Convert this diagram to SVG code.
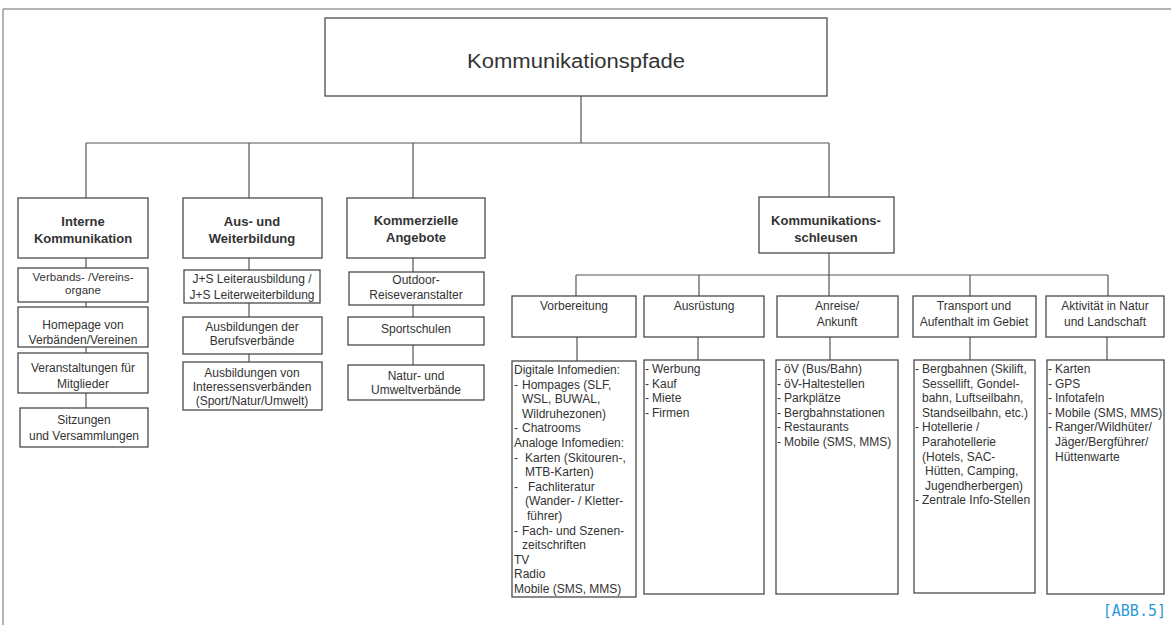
<svg xmlns="http://www.w3.org/2000/svg" width="1171" height="625" viewBox="0 0 1171 625">
<style>
.bx{fill:#fff;stroke:#4a4a4a;stroke-width:1.3}
.ln{stroke:#555;stroke-width:1.2;fill:none}
.fr{stroke:#9a9a9a;stroke-width:1.5;fill:none}
text{font-family:"Liberation Sans",Arial,sans-serif;fill:#333;font-size:12px}
.c{text-anchor:middle}
.b{font-weight:bold;font-size:13px}
.t{font-size:20px}
.s{font-size:11.5px}
.abb{font-family:"DejaVu Sans Mono","Liberation Mono",monospace;font-size:15px;fill:#2e9ad6}
</style>
<rect width="1171" height="625" fill="#fff"/>
<g id="frame">
<line class="fr" x1="3" y1="9" x2="1171" y2="9"/>
<line class="fr" x1="3" y1="9" x2="3" y2="625"/>
</g>
<g id="connectors">
<path class="ln" d="M581 96V143M86 143H829M86 143V198M249 143V198M413 143V198M829 143V197"/>
<path class="ln" d="M86 258V408"/>
<path class="ln" d="M249 258V362"/>
<path class="ln" d="M413 258V365"/>
<path class="ln" d="M829 253V275M576 275H1108M576 275V296M699 275V296M829 275V296M970 275V296M1108 275V296"/>
<path class="ln" d="M577 337V361M698 337V360M830 337V360M970 337V360M1107 337V360"/>
</g>
<g id="title">
<rect class="bx" x="325" y="18" width="502" height="78"/>
<text class="t c" x="576" y="68" textLength="218" lengthAdjust="spacingAndGlyphs">Kommunikationspfade</text>
</g>
<g id="interne">
<rect class="bx" x="18" y="198" width="130" height="60"/>
<text class="b c" x="83" y="226">Interne</text>
<text class="b c" x="83" y="243">Kommunikation</text>
</g>
<g id="verbands">
<rect class="bx" x="18" y="268" width="130" height="34"/>
<text class="c s" x="83" y="281">Verbands- /Vereins-</text>
<text class="c s" x="83" y="294">organe</text>
</g>
<g id="homepage">
<rect class="bx" x="18" y="307" width="130" height="40"/>
<text class="c" x="83" y="329">Homepage von</text>
<text class="c" x="83" y="344">Verbänden/Vereinen</text>
</g>
<g id="veranstaltungen">
<rect class="bx" x="18" y="353" width="130" height="40"/>
<text class="c" x="83" y="372">Veranstaltungen für</text>
<text class="c" x="83" y="388">Mitglieder</text>
</g>
<g id="sitzungen">
<rect class="bx" x="20" y="408" width="128" height="39"/>
<text class="c" x="84" y="424">Sitzungen</text>
<text class="c" x="84" y="440">und Versammlungen</text>
</g>
<g id="ausbildung">
<rect class="bx" x="183" y="198" width="139" height="60"/>
<text class="b c" x="252" y="226">Aus- und</text>
<text class="b c" x="252" y="243">Weiterbildung</text>
</g>
<g id="js">
<rect class="bx" x="184" y="270" width="136" height="33"/>
<text class="c" x="252" y="283">J+S Leiterausbildung  /</text>
<text class="c" x="252" y="299">J+S Leiterweiterbildung</text>
</g>
<g id="berufsverbaende">
<rect class="bx" x="183" y="317" width="139" height="37"/>
<text class="c" x="252" y="331">Ausbildungen der</text>
<text class="c" x="252" y="345">Berufsverbände</text>
</g>
<g id="interessensverbaende">
<rect class="bx" x="183" y="362" width="139" height="48"/>
<text class="c" x="252" y="377">Ausbildungen von</text>
<text class="c" x="252" y="391">Interessensverbänden</text>
<text class="c" x="252" y="405">(Sport/Natur/Umwelt)</text>
</g>
<g id="kommerziell">
<rect class="bx" x="347" y="198" width="138" height="60"/>
<text class="b c" x="416" y="225">Kommerzielle</text>
<text class="b c" x="416" y="242">Angebote</text>
</g>
<g id="outdoor">
<rect class="bx" x="349" y="272" width="135" height="33"/>
<text class="c" x="416" y="284">Outdoor-</text>
<text class="c" x="416" y="299">Reiseveranstalter</text>
</g>
<g id="sportschulen">
<rect class="bx" x="348" y="317" width="136" height="28"/>
<text class="c" x="416" y="333">Sportschulen</text>
</g>
<g id="naturverbaende">
<rect class="bx" x="348" y="365" width="136" height="35"/>
<text class="c" x="416" y="380">Natur- und</text>
<text class="c" x="416" y="394">Umweltverbände</text>
</g>
<g id="schleusen">
<rect class="bx" x="759" y="197" width="135" height="56"/>
<text class="b c" x="826" y="225">Kommunikations-</text>
<text class="b c" x="826" y="242">schleusen</text>
</g>
<g id="vorbereitung">
<rect class="bx" x="512" y="296" width="124" height="41"/>
<text class="c" x="574" y="310">Vorbereitung</text>
</g>
<g id="ausruestung">
<rect class="bx" x="644" y="296" width="120" height="41"/>
<text class="c" x="704" y="310">Ausrüstung</text>
</g>
<g id="anreise">
<rect class="bx" x="777" y="296" width="121" height="41"/>
<text class="c" x="837" y="310">Anreise/</text>
<text class="c" x="837" y="326">Ankunft</text>
</g>
<g id="transport">
<rect class="bx" x="913" y="296" width="123" height="41"/>
<text class="c" x="974" y="310">Transport und</text>
<text class="c" x="974" y="326">Aufenthalt im Gebiet</text>
</g>
<g id="aktivitaet">
<rect class="bx" x="1046" y="296" width="118" height="41"/>
<text class="c" x="1105" y="310">Aktivität in Natur</text>
<text class="c" x="1105" y="326">und Landschaft</text>
</g>
<g id="vorbereitung-liste">
<rect class="bx" x="512" y="361" width="124" height="236"/>
<text x="514" y="374">Digitale Infomedien:</text>
<text x="514" y="388.6">-</text><text x="522" y="388.6">Hompages (SLF,</text>
<text x="522" y="403.2">WSL, BUWAL,</text>
<text x="522" y="417.8">Wildruhezonen)</text>
<text x="514" y="432.4">-</text><text x="522" y="432.4">Chatrooms</text>
<text x="514" y="447">Analoge  Infomedien:</text>
<text x="514" y="461.6">-</text><text x="525" y="461.6">Karten (Skitouren-,</text>
<text x="525" y="476.2">MTB-Karten)</text>
<text x="514" y="490.8">-</text><text x="528" y="490.8">Fachliteratur</text>
<text x="525" y="505.4">(Wander- / Kletter-</text>
<text x="527" y="520">führer)</text>
<text x="514" y="534.6">-</text><text x="522" y="534.6">Fach- und Szenen-</text>
<text x="522" y="549.2">zeitschriften</text>
<text x="514" y="563.8">TV</text>
<text x="514" y="578.4">Radio</text>
<text x="514" y="593">Mobile (SMS, MMS)</text>
</g>
<g id="ausruestung-liste">
<rect class="bx" x="644" y="360" width="120" height="234"/>
<text x="645" y="373">-</text><text x="652" y="373">Werbung</text>
<text x="645" y="387.6">-</text><text x="652" y="387.6">Kauf</text>
<text x="645" y="402.2">-</text><text x="652" y="402.2">Miete</text>
<text x="645" y="416.8">-</text><text x="652" y="416.8">Firmen</text>
</g>
<g id="anreise-liste">
<rect class="bx" x="776" y="360" width="122" height="234"/>
<text x="777" y="373">-</text><text x="784" y="373">öV (Bus/Bahn)</text>
<text x="777" y="387.6">-</text><text x="784" y="387.6">öV-Haltestellen</text>
<text x="777" y="402.2">-</text><text x="784" y="402.2">Parkplätze</text>
<text x="777" y="416.8">-</text><text x="784" y="416.8">Bergbahnstationen</text>
<text x="777" y="431.4">-</text><text x="784" y="431.4">Restaurants</text>
<text x="777" y="446">-</text><text x="784" y="446">Mobile (SMS, MMS)</text>
</g>
<g id="transport-liste">
<rect class="bx" x="914" y="360" width="121" height="233"/>
<text x="915" y="373">-</text><text x="922" y="373">Bergbahnen (Skilift,</text>
<text x="922" y="387.6">Sessellift, Gondel-</text>
<text x="922" y="402.2">bahn, Luftseilbahn,</text>
<text x="922" y="416.8">Standseilbahn, etc.)</text>
<text x="915" y="431.4">-</text><text x="922" y="431.4">Hotellerie /</text>
<text x="922" y="446">Parahotellerie</text>
<text x="922" y="460.6">(Hotels, SAC-</text>
<text x="925" y="475.2">Hütten, Camping,</text>
<text x="925" y="489.8">Jugendherbergen)</text>
<text x="915" y="504.4">-</text><text x="922" y="504.4">Zentrale Info-Stellen</text>
</g>
<g id="aktivitaet-liste">
<rect class="bx" x="1047" y="360" width="117" height="234"/>
<text x="1048" y="373">-</text><text x="1055" y="373">Karten</text>
<text x="1048" y="387.6">-</text><text x="1055" y="387.6">GPS</text>
<text x="1048" y="402.2">-</text><text x="1055" y="402.2">Infotafeln</text>
<text x="1048" y="416.8">-</text><text x="1055" y="416.8">Mobile (SMS, MMS)</text>
<text x="1048" y="431.4">-</text><text x="1055" y="431.4">Ranger/Wildhüter/</text>
<text x="1055" y="446">Jäger/Bergführer/</text>
<text x="1055" y="460.6">Hüttenwarte</text>
</g>
<text class="abb" x="1166" y="616" text-anchor="end">[ABB.5]</text>
</svg>
